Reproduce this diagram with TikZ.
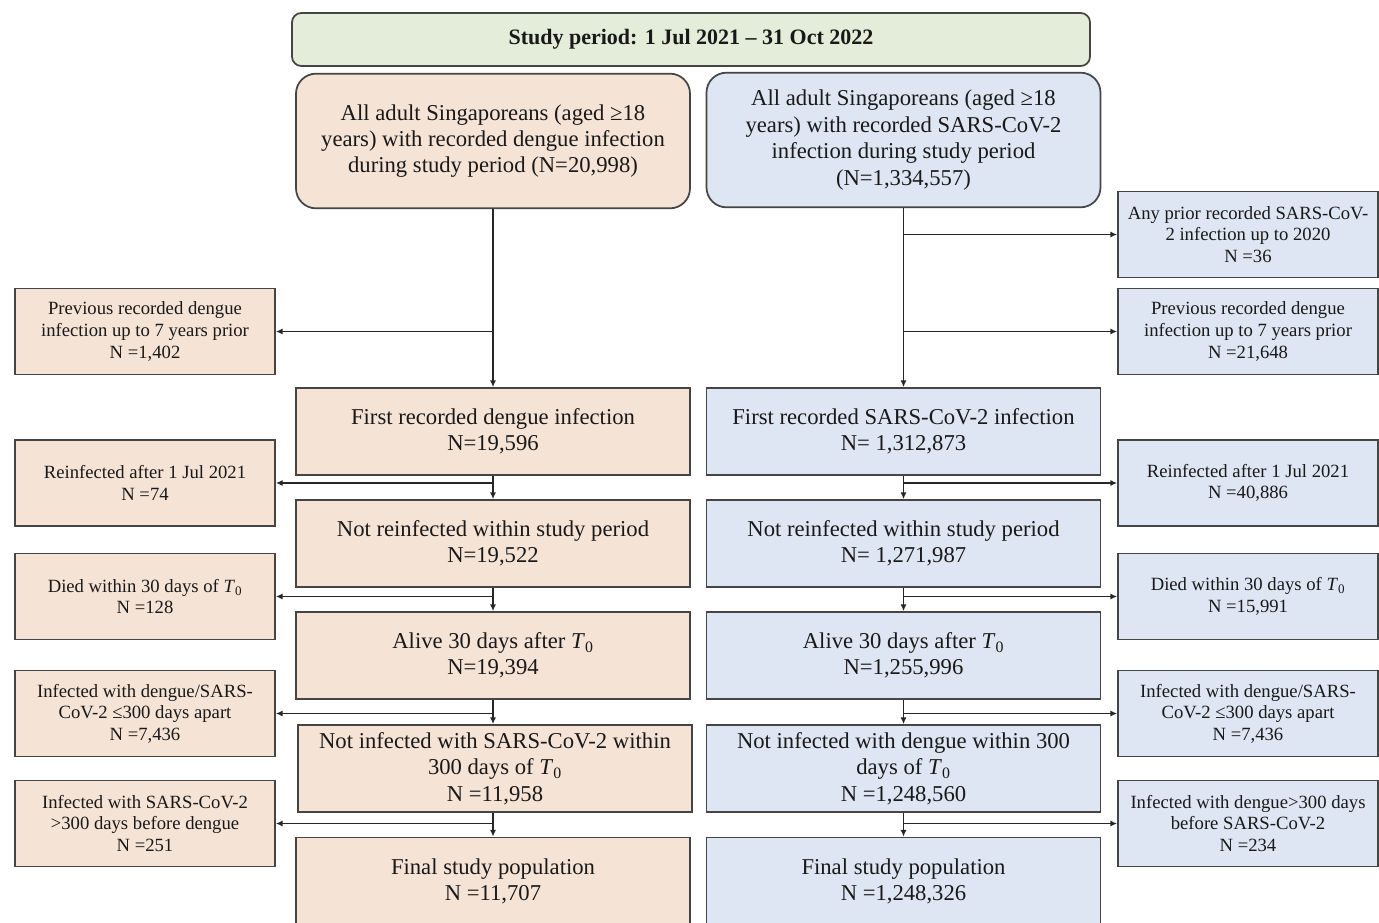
\documentclass[tikz,border=0pt]{standalone}
\usepackage{fontspec}
\setmainfont{Liberation Serif}
\usetikzlibrary{arrows.meta}
\definecolor{peach}{HTML}{F5E3D6}
\definecolor{bluef}{HTML}{DDE6F2}
\definecolor{greenf}{HTML}{E3EDD9}
\definecolor{edge}{HTML}{454545}
\newcommand{\Tz}{\textit{T}\textsubscript{0}}
\begin{document}
\begin{tikzpicture}[x=0.75pt,y=-0.75pt,
 box/.style={draw=edge,line width=1.3pt,inner sep=0pt,align=center,text=black!90},
 mainbox/.style={box,minimum width=295.5pt,minimum height=65.25pt,font=\fontsize{17}{19.7}\selectfont},
 topbox/.style={box,rounded corners=15pt,minimum width=295.5pt,minimum height=101pt,font=\fontsize{17}{19.8}\selectfont},
 sidebox/.style={box,minimum width=195pt,minimum height=64.5pt,font=\fontsize{14}{16.2}\selectfont},
 lft/.style={fill=peach},
 rgt/.style={fill=bluef},
 arr/.style={draw=black!85,line width=1.35pt,-{Latex[length=5pt,width=4.5pt]}}]
\clip (0,0) rectangle (1379,922);
\fill[white] (0,0) rectangle (1379,922);

\node[box,fill=greenf,rounded corners=7pt,minimum width=598.5pt,minimum height=39.75pt,font=\fontsize{16.5}{19}\selectfont\bfseries] (title) at (691,39.5) {Study period: 1 Jul 2021 -- 31 Oct 2022};

\node[topbox,lft] (TL) at (493,141) {All adult Singaporeans (aged ≥18\\years) with recorded dengue infection\\during study period (N=20,998)};
\node[topbox,rgt] (TR) at (903.5,140) {All adult Singaporeans (aged ≥18\\years) with recorded SARS-CoV-2\\infection during study period\\(N=1,334,557)};

% main boxes left
\node[mainbox,lft] (L1) at (493,431.5) {First recorded dengue infection\\N=19,596};
\node[mainbox,lft] (L2) at (493,543.5) {Not reinfected within study period\\N=19,522};
\node[mainbox,lft] (L3) at (493,655.5) {Alive 30 days after \Tz\\N=19,394};
\node[mainbox,lft] (L4) at (495,768.5) {Not infected with SARS-CoV-2 within\\300 days of \Tz\\N =11,958};
\node[mainbox,lft] (L5) at (493,881) {Final study population\\N =11,707};

% main boxes right
\node[mainbox,rgt] (R1) at (903.5,431.5) {First recorded SARS-CoV-2 infection\\N= 1,312,873};
\node[mainbox,rgt] (R2) at (903.5,543.5) {Not reinfected within study period\\N= 1,271,987};
\node[mainbox,rgt] (R3) at (903.5,655.5) {Alive 30 days after \Tz\\N=1,255,996};
\node[mainbox,rgt] (R4) at (903.5,768.5) {Not infected with dengue within 300\\days of \Tz\\N =1,248,560};
\node[mainbox,rgt] (R5) at (903.5,881) {Final study population\\N =1,248,326};

% side boxes left
\node[sidebox,lft] (SL0) at (145,331.5) {Previous recorded dengue\\infection up to 7 years prior\\N =1,402};
\node[sidebox,lft] (SL1) at (145,483) {Reinfected after 1 Jul 2021\\N =74};
\node[sidebox,lft] (SL2) at (145,596.5) {Died within 30 days of \Tz\\N =128};
\node[sidebox,lft] (SL3) at (145,713.5) {Infected with dengue/SARS-\\CoV-2 ≤300 days apart\\N =7,436};
\node[sidebox,lft] (SL4) at (145,823.5) {Infected with SARS-CoV-2\\>300 days before dengue\\N =251};

% side boxes right
\node[sidebox,rgt] (SRa) at (1248,234.5) {Any prior recorded SARS-CoV-\\2 infection up to 2020\\N =36};
\node[sidebox,rgt] (SR0) at (1248,331.5) {Previous recorded dengue\\infection up to 7 years prior\\N =21,648};
\node[sidebox,rgt] (SR1) at (1248,483) {Reinfected after 1 Jul 2021\\N =40,886};
\node[sidebox,rgt] (SR2) at (1248,596.5) {Died within 30 days of \Tz\\N =15,991};
\node[sidebox,rgt] (SR3) at (1248,713.5) {Infected with dengue/SARS-\\CoV-2 ≤300 days apart\\N =7,436};
\node[sidebox,rgt] (SR4) at (1248,823.5) {Infected with dengue>300 days\\before SARS-CoV-2\\N =234};

% left column connectors
\draw[arr] (TL.south) -- (TL.south |- L1.north);
\draw[arr] (TL.south |- SL0.east) -- (SL0.east);
\draw[arr] (L1.south) -- (L1.south |- L2.north);
\draw[arr] (L1.south |- SL1.east) -- (SL1.east);
\draw[arr] (L2.south) -- (L2.south |- L3.north);
\draw[arr] (L2.south |- SL2.east) -- (SL2.east);
\draw[arr] (L3.south) -- (L3.south |- L4.north);
\draw[arr] (L3.south |- SL3.east) -- (SL3.east);
\draw[arr] (L3.south |- L4.south) -- (L3.south |- L5.north);
\draw[arr] (L3.south |- SL4.east) -- (SL4.east);

% right column connectors
\draw[arr] (TR.south) -- (TR.south |- R1.north);
\draw[arr] (TR.south |- SRa.west) -- (SRa.west);
\draw[arr] (TR.south |- SR0.west) -- (SR0.west);
\draw[arr] (R1.south) -- (R2.north);
\draw[arr] (R1.south |- SR1.west) -- (SR1.west);
\draw[arr] (R2.south) -- (R3.north);
\draw[arr] (R2.south |- SR2.west) -- (SR2.west);
\draw[arr] (R3.south) -- (R4.north);
\draw[arr] (R3.south |- SR3.west) -- (SR3.west);
\draw[arr] (R4.south) -- (R5.north);
\draw[arr] (R4.south |- SR4.west) -- (SR4.west);
\end{tikzpicture}
\end{document}
